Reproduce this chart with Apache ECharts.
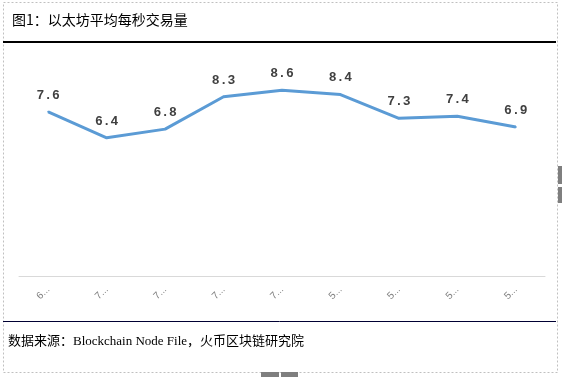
<!DOCTYPE html>
<html>
<head>
<meta charset="utf-8">
<script src="https://cdn.jsdelivr.net/npm/echarts@6/dist/echarts.min.js"></script>
<style>
  html, body { margin: 0; padding: 0; background: #fff; }
  #main { width: 562px; height: 377px; }
</style>
</head>
<body>
<div id="main"></div>
<script>
// 类目（原图标签被截断，只能看到首字符）
var categories = ['6-Jun', '7-Jun', '7-Jul', '7-Aug', '7-Sep', '5-Oct', '5-Nov', '5-Dec', '5-Jan'];
// 以太坊平均每秒交易量
var tpsValues = [7.6, 6.4, 6.8, 8.3, 8.6, 8.4, 7.3, 7.4, 6.9];

var titleText = '图1：以太坊平均每秒交易量';
var sourceText = '数据来源：Blockchain Node File，火币区块链研究院';

var myChart = echarts.init(document.getElementById('main'));
myChart.setOption({
    animation: false,
    grid: { left: 19, right: 17, top: 60, bottom: 101 },
    xAxis: {
        type: 'category',
        data: categories,
        boundaryGap: true,
        axisLine: { show: true, lineStyle: { color: '#d9d9d9', width: 1 } },
        axisTick: { show: false },
        axisLabel: {
            rotate: 45,
            margin: 12,
            color: '#7f7f7f',
            fontSize: 10,
            // 原图中标签被截断为"首字符…"
            formatter: function (v) { return v.charAt(0) + '...'; }
        }
    },
    yAxis: {
        type: 'value',
        min: 0,
        max: 10,
        interval: 2,
        show: false,
        splitLine: { show: false }
    },
    series: [{
        type: 'line',
        data: tpsValues,
        symbol: 'circle',
        symbolSize: 2,
        showSymbol: true,
        itemStyle: { color: '#5b9bd5' },
        lineStyle: { color: '#5b9bd5', width: 3 },
        label: {
            show: true,
            position: 'top',
            distance: 9,
            color: '#404040',
            fontFamily: 'Liberation Mono',
            fontWeight: 'bold',
            fontSize: 13
        },
        labelLayout: { hideOverlap: false }
    }],
    graphic: [
        // 外框（虚线）
        {
            type: 'rect',
            shape: { x: 3.5, y: 2.5, width: 554, height: 370 },
            style: { fill: 'none', stroke: '#c0c0c0', lineWidth: 1, lineDash: [2, 2] },
            silent: true
        },
        {
            type: 'text',
            left: 12, top: 13,
            style: {
                text: titleText,
                fill: '#000',
                font: '14px "Noto Sans CJK SC"'
            }
        },
        {
            type: 'line',
            shape: { x1: 3, y1: 42, x2: 556, y2: 42 },
            style: { stroke: '#000', lineWidth: 2 }
        },
        {
            type: 'line',
            shape: { x1: 3, y1: 321.5, x2: 556, y2: 321.5 },
            style: { stroke: '#000033', lineWidth: 1 }
        },
        {
            type: 'text',
            left: 8, top: 335,
            style: {
                text: sourceText,
                fill: '#000',
                font: '13px "Liberation Serif", "Noto Sans CJK SC"'
            }
        },
        // 页面上的拖拽手柄
        {
            type: 'rect',
            shape: { x: 558, y: 166, width: 4, height: 18 },
            style: { fill: '#7f7f7f' }
        },
        {
            type: 'rect',
            shape: { x: 558, y: 187, width: 4, height: 16 },
            style: { fill: '#7f7f7f' }
        },
        {
            type: 'rect',
            shape: { x: 261, y: 372, width: 18, height: 5 },
            style: { fill: '#7f7f7f' }
        },
        {
            type: 'rect',
            shape: { x: 281, y: 372, width: 17, height: 5 },
            style: { fill: '#7f7f7f' }
        }
    ]
});
</script>
</body>
</html>
